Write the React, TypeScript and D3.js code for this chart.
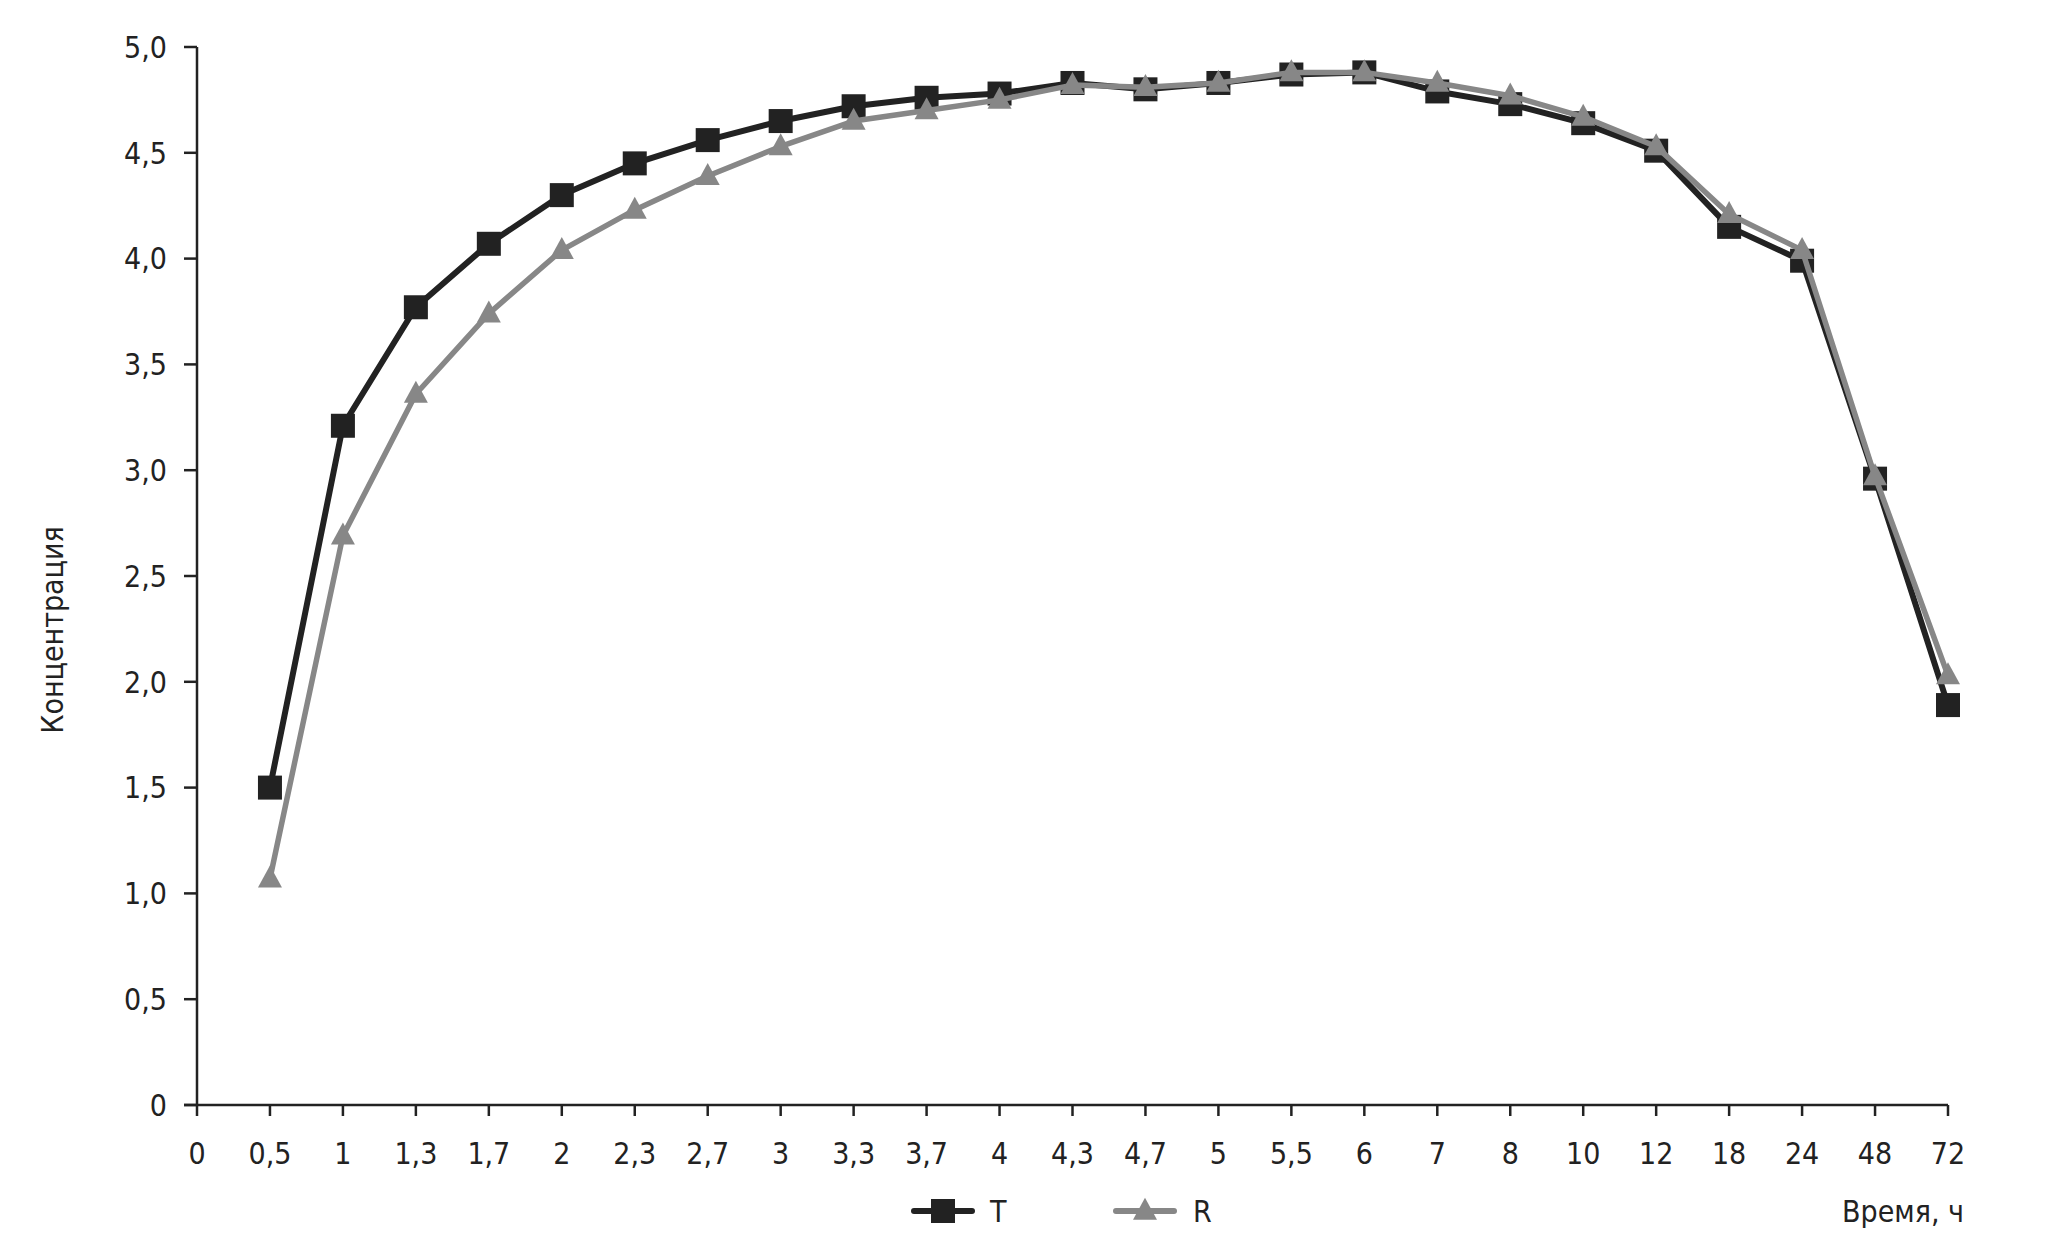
import React from "react";
import * as d3 from "d3";

const categories = ["0", "0,5", "1", "1,3", "1,7", "2", "2,3", "2,7", "3", "3,3", "3,7", "4", "4,3", "4,7", "5", "5,5", "6", "7", "8", "10", "12", "18", "24", "48", "72"];
const seriesT = [null, 1.5, 3.21, 3.77, 4.07, 4.3, 4.45, 4.56, 4.65, 4.72, 4.76, 4.78, 4.83, 4.8, 4.83, 4.87, 4.88, 4.79, 4.73, 4.64, 4.51, 4.15, 3.99, 2.96, 1.89];
const seriesR = [null, 1.07, 2.69, 3.36, 3.74, 4.04, 4.23, 4.39, 4.53, 4.65, 4.7, 4.75, 4.82, 4.81, 4.83, 4.88, 4.88, 4.83, 4.77, 4.67, 4.53, 4.21, 4.04, 2.97, 2.03];
const yTicks = [0, 0.5, 1, 1.5, 2, 2.5, 3, 3.5, 4, 4.5, 5];
const yTickLabels = ["0", "0,5", "1,0", "1,5", "2,0", "2,5", "3,0", "3,5", "4,0", "4,5", "5,0"];

const W = 2046;
const H = 1257;
const FONT = "'Liberation Sans Narrow', 'DejaVu Sans Condensed', 'Roboto', sans-serif";
const DARK = "#222222";
const GREY = "#878787";

export default function App() {
  const x0 = 197;
  const x1 = 1948;
  const yTop = 47;
  const yBot = 1105;
  const x = d3.scalePoint<string>().domain(categories).range([x0, x1]);
  const y = d3.scaleLinear().domain([0, 5]).range([yBot, yTop]);

  const pts = (s: (number | null)[]) =>
    s.map((v, i) => ({ c: categories[i], v })).filter((d) => d.v != null) as { c: string; v: number }[];

  const line = d3
    .line<{ c: string; v: number }>()
    .x((d) => x(d.c) as number)
    .y((d) => y(d.v));

  const tPts = pts(seriesT);
  const rPts = pts(seriesR);
  const sq = 24;
  const tri = (cx: number, cy: number) => {
    const w = 24, h = 22;
    return `M${cx},${cy - h * 0.6} L${cx + w / 2},${cy + h * 0.4} L${cx - w / 2},${cy + h * 0.4} Z`;
  };

  const legendY = 1211;

  return (
    <svg width={W} height={H} style={{ position: "absolute", left: 0, top: 0, background: "#fff" }} fontFamily={FONT}>
      {/* y axis */}
      <line x1={x0} x2={x0} y1={yTop} y2={yBot} stroke={DARK} strokeWidth={2.5} />
      {yTicks.map((t, i) => (
        <g key={t}>
          <line x1={x0 - 13} x2={x0} y1={y(t)} y2={y(t)} stroke={DARK} strokeWidth={2.5} />
          <text x={x0 - 30} y={y(t)} dy="0.36em" textAnchor="end" fontSize={30} fill={DARK}>
            {yTickLabels[i]}
          </text>
        </g>
      ))}
      {/* x axis */}
      <line x1={x0 - 13} x2={x1} y1={yBot} y2={yBot} stroke={DARK} strokeWidth={2.5} />
      {categories.map((c) => (
        <g key={c}>
          <line x1={x(c)} x2={x(c)} y1={yBot} y2={yBot + 11} stroke={DARK} strokeWidth={2.5} />
          <text x={x(c)} y={1153} dy="0.36em" textAnchor="middle" fontSize={30} fill={DARK}>
            {c}
          </text>
        </g>
      ))}
      {/* axis titles */}
      <text transform={`translate(52,630) rotate(-90)`} textAnchor="middle" dy="0.36em" fontSize={30} fill={DARK}>
        Концентрация
      </text>
      <text x={1964} y={legendY} dy="0.36em" textAnchor="end" fontSize={30} fill={DARK}>
        Время, ч
      </text>

      {/* series T */}
      <path d={line(tPts) || ""} fill="none" stroke={DARK} strokeWidth={6} strokeLinejoin="round" />
      {tPts.map((d) => (
        <rect key={"t" + d.c} x={(x(d.c) as number) - sq / 2} y={y(d.v) - sq / 2} width={sq} height={sq} fill={DARK} />
      ))}
      {/* series R */}
      <path d={line(rPts) || ""} fill="none" stroke={GREY} strokeWidth={5.5} strokeLinejoin="round" />
      {rPts.map((d) => (
        <path key={"r" + d.c} d={tri(x(d.c) as number, y(d.v))} fill={GREY} />
      ))}

      {/* legend */}
      <line x1={914} x2={972} y1={legendY} y2={legendY} stroke={DARK} strokeWidth={6} strokeLinecap="round" />
      <rect x={943 - sq / 2} y={legendY - sq / 2} width={sq} height={sq} fill={DARK} />
      <text x={990} y={legendY} dy="0.36em" fontSize={30} fill={DARK}>T</text>
      <line x1={1116} x2={1174} y1={legendY} y2={legendY} stroke={GREY} strokeWidth={6} strokeLinecap="round" />
      <path d={tri(1145, legendY)} fill={GREY} />
      <text x={1193} y={legendY} dy="0.36em" fontSize={30} fill={DARK}>R</text>
    </svg>
  );
}
